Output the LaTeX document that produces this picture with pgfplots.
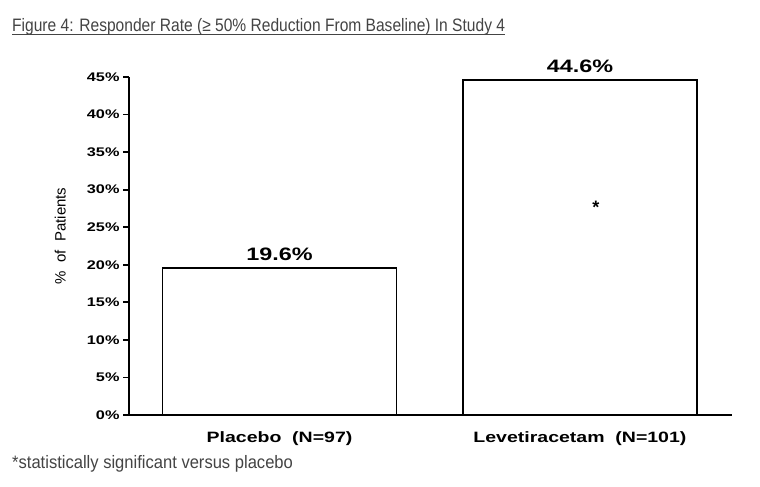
\documentclass[border=0pt]{standalone}
\usepackage{fontspec}
\setmainfont{Liberation Sans}
\newfontfamily\titlefont[FakeStretch=0.865]{Liberation Sans}
\newfontfamily\notefont[FakeStretch=0.92]{Liberation Sans}
\newfontfamily\widefont[FakeStretch=1.3]{Liberation Sans}
\usepackage{pgfplots}
\pgfplotsset{compat=1.18}
\definecolor{titlegray}{HTML}{444444}
\begin{document}
\begin{tikzpicture}[x=1pt,y=1pt]
\path[use as bounding box, fill=white] (0,0) rectangle (760,487);
\begin{axis}[
  at={(129pt,72pt)}, anchor=south west,
  scale only axis, width=603pt, height=338pt,
  xmin=-0.501, xmax=1.506, ymin=0, ymax=45,
  axis x line=bottom, axis y line=left,
  axis line style={-, line width=1.8pt},
  ybar, bar width=234pt,
  xtick={0,1},
  xticklabels={Placebo\ \ (N=97), Levetiracetam\ \ (N=101)},
  xtick style={draw=none},
  xticklabel style={yshift=-7pt, font=\widefont\bfseries\fontsize{15}{18}\selectfont},
  ytick={0,5,...,45},
  yticklabels={0\%,5\%,10\%,15\%,20\%,25\%,30\%,35\%,40\%,45\%},
  ytick style={line width=1.8pt, black},
  tick align=outside, major tick length=6pt,
  yticklabel style={font=\widefont\bfseries\fontsize{12.5}{15}\selectfont},
  ylabel={\%\ \ of\ \ Patients},
  ylabel style={font=\fontsize{15}{18}\selectfont, at={(axis description cs:-0.114,0.53)}, anchor=center},
  /pgf/number format/assume math mode=true,
  nodes near coords={\pgfmathprintnumber[fixed,fixed zerofill,precision=1]{\pgfplotspointmeta}\%},
  nodes near coords style={font=\widefont\bfseries\fontsize{18}{21}\selectfont, yshift=3pt},
  clip=false
]
\addplot[draw=black, line width=1.8pt, fill=white] coordinates {(0,19.6) (1,44.6)};
\node at (axis cs:1.053,27.6) {\bfseries\fontsize{18}{20}\selectfont *};
\end{axis}
\node[anchor=base west, text=titlegray, inner sep=0pt] (t) at (12,455)
  {\titlefont\fontsize{18}{21}\selectfont Figure 4: Responder Rate (≥ 50\% Reduction From Baseline) In Study 4};
\draw[titlegray, line width=1pt] ([yshift=-3pt]t.base west) -- ([yshift=-3pt]t.base east);
\node[anchor=base west, text=titlegray, inner sep=0pt] at (12,18)
  {\notefont\fontsize{18}{21}\selectfont *statistically significant versus placebo};
\end{tikzpicture}
\end{document}
